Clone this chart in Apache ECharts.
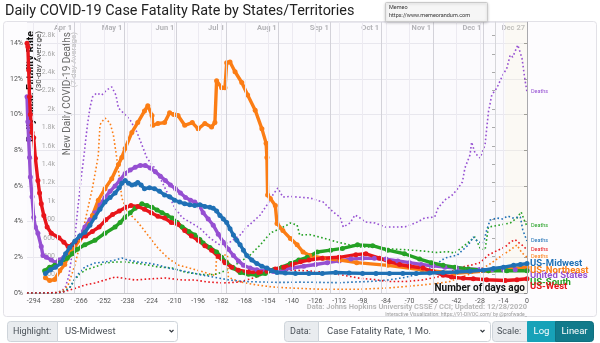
<!DOCTYPE html>
<html>
<head>
<meta charset="utf-8">
<script src="https://cdn.jsdelivr.net/npm/echarts@6/dist/echarts.min.js"></script>
<style>
  html, body { margin: 0; padding: 0; background: #ffffff; }
  #main { width: 600px; height: 343px; }
</style>
</head>
<body>
<div id="main"></div>
<script>
// Days before the last update (0 = Dec 27) and the tick positions of both x axes
const dayTicks = [-294, -280, -266, -252, -238, -224, -210, -196, -182, -168, -154, -140, -126, -112, -98, -84, -70, -56, -42, -28, -14, 0];
const monthDays = [-270, -240, -209, -179, -148, -117, -87, -56, -26, 0];
const monthNames = ['Apr 1', 'May 1', 'Jun 1', 'Jul 1', 'Aug 1', 'Sep 1', 'Oct 1', 'Nov 1', 'Dec 1', 'Dec 27'];

// Case fatality rate, 30-day average (%), as [day, value]
const midwestCfr = [[-287,1.1],[-284,1.3],[-281,1.45],[-278,1.65],[-275,2.2],[-272.5,2.55],[-269.5,2.9],[-266.5,3.2],[-263.5,3.4],[-260.5,3.8],[-257.5,4.25],[-254.5,4.7],[-251.5,5.1],[-248.5,5.35],[-245.5,5.6],[-243,5.9],[-241.5,6.15],[-239.5,6.3],[-237.5,6.15],[-235.5,6.05],[-233.5,6.1],[-232,6.2],[-230,6.05],[-228,5.85],[-225,5.9],[-222,5.85],[-219,5.7],[-216,5.5],[-213,5.4],[-210,5.2],[-207,5.1],[-204,5.0],[-201,4.95],[-198,4.9],[-195,4.95],[-192,4.85],[-189,4.8],[-187,4.75],[-185,4.6],[-183,4.35],[-181,4.15],[-179,3.95],[-177,3.6],[-175,3.25],[-173,2.95],[-171,2.7],[-169,2.4],[-167,2.1],[-164,1.85],[-161,1.65],[-158,1.5],[-155,1.4],[-152,1.25],[-149,1.15],[-144,1.12],[-138,1.1],[-130,1.1],[-122,1.1],[-114,1.15],[-106,1.12],[-98,1.1],[-90,1.1],[-82,1.1],[-74,1.1],[-66,1.1],[-58,1.12],[-50,1.15],[-42,1.18],[-34,1.22],[-26,1.28],[-20,1.38],[-14,1.45],[-8,1.55],[-4,1.6],[0,1.65]];
const northeastCfr = [[-287,0.85],[-284.5,0.7],[-281.5,0.75],[-278.5,1.25],[-275.5,1.6],[-272.5,2.3],[-269.5,2.6],[-266.5,3.0],[-263.5,3.4],[-259,4.35],[-255.5,5.2],[-251.5,5.85],[-247.5,6.4],[-243.5,7.2],[-241.5,7.6],[-239.5,8.1],[-235.5,9.0],[-232,9.55],[-228,10.2],[-226,10.5],[-223.5,9.95],[-223,9.4],[-220,9.5],[-216,9.55],[-213,10.1],[-210.5,10.0],[-208,9.95],[-204,9.4],[-199.5,9.55],[-196,9.2],[-192,9.5],[-188,9.3],[-186,9.55],[-185,11.9],[-182,11.5],[-180,11.5],[-179,12.9],[-177,12.95],[-174,12.4],[-170,11.8],[-166.5,11.1],[-162,10.25],[-158,9.2],[-155.5,8.4],[-155,7.6],[-154.6,5.5],[-153,5.3],[-150,4.9],[-149,3.9],[-145.5,3.5],[-141,3.05],[-137,2.7],[-133.5,2.3],[-129.5,2.1],[-121.5,1.95],[-111.5,1.85],[-101.5,1.7],[-83,1.55],[-62.5,1.3],[-43,1.1],[-23,1.25],[0,1.45]];
const usCfr = [[-298,11.0],[-297.5,9.6],[-297,8.6],[-296.5,7.6],[-296,6.5],[-295,5.4],[-294,4.25],[-293,3.7],[-291.5,3.35],[-289.5,2.6],[-288.5,2.1],[-286.5,2.0],[-283.5,1.85],[-281,1.7],[-279,1.85],[-276,2.0],[-273,2.3],[-270,2.75],[-266.5,3.2],[-263.5,3.7],[-260.5,4.1],[-257.5,4.5],[-254.5,4.95],[-251.5,5.35],[-248.5,5.7],[-245.5,6.0],[-242.5,6.35],[-239.5,6.7],[-236.5,6.9],[-233.5,7.05],[-230.5,7.15],[-227.5,7.15],[-224.5,7.0],[-221.5,6.8],[-218.5,6.55],[-215.5,6.3],[-212.5,6.05],[-209.5,5.85],[-206.5,5.6],[-203.5,5.35],[-200.5,5.2],[-198,5.1],[-195,4.85],[-193,4.5],[-190,4.15],[-187,3.8],[-184,3.3],[-181,2.85],[-178,2.45],[-175,2.1],[-172,1.8],[-169,1.55],[-165,1.4],[-161,1.3],[-156,1.22],[-151,1.2],[-146,1.3],[-140,1.4],[-133,1.5],[-126,1.6],[-119,1.7],[-112,1.8],[-105,1.9],[-98,1.95],[-91,1.95],[-84,1.9],[-77,1.8],[-70,1.7],[-63,1.6],[-56,1.52],[-49,1.45],[-42,1.4],[-35,1.35],[-28,1.32],[-21,1.3],[-14,1.3],[-7,1.3],[0,1.3]];
const southCfr = [[-287.5,1.25],[-284.5,1.45],[-281.5,1.55],[-278.5,1.7],[-274,1.95],[-271,2.2],[-268,2.45],[-263.5,2.7],[-257.5,2.95],[-251.5,3.35],[-245.5,3.7],[-242.5,3.95],[-239.5,4.25],[-236.5,4.5],[-233.5,4.75],[-229.5,5.0],[-226.5,4.9],[-223.5,4.8],[-220.5,4.65],[-217.5,4.5],[-214.5,4.35],[-211.5,4.2],[-208.5,3.95],[-205.5,3.7],[-201.5,3.45],[-198,3.25],[-195,3.0],[-193,2.8],[-189,2.55],[-185,2.3],[-182,2.0],[-179,1.7],[-175,1.4],[-171,1.15],[-166,1.05],[-161,1.0],[-156,1.1],[-151,1.3],[-146,1.45],[-141,1.65],[-136,1.85],[-131,2.0],[-125,2.3],[-117,2.4],[-110,2.5],[-101,2.7],[-92,2.65],[-83,2.4],[-73,2.2],[-64,1.9],[-57,1.7],[-50,1.55],[-43,1.45],[-35,1.35],[-23,1.25],[-12,1.25],[0,1.25]];
const westCfr = [[-298,14.0],[-297.5,13.8],[-297,12.5],[-296.5,11.0],[-296,10.0],[-295,9.0],[-294,8.7],[-293,7.55],[-291.5,6.3],[-290.5,5.6],[-289.5,5.0],[-288,4.35],[-286,3.7],[-283.5,3.35],[-279,3.1],[-276,2.85],[-273.5,2.6],[-271,2.7],[-269.5,2.85],[-266,3.1],[-263,3.2],[-259,3.45],[-255,3.7],[-251,4.1],[-247,4.4],[-243,4.6],[-239,4.8],[-236,4.9],[-232,4.85],[-228,4.7],[-224,4.5],[-220,4.3],[-216,4.2],[-212,3.95],[-208,3.85],[-204,3.5],[-200,3.2],[-196,2.95],[-192,2.65],[-188,2.4],[-184,2.05],[-180,1.7],[-176,1.45],[-172,1.28],[-166,1.18],[-160,1.15],[-155,1.22],[-150,1.35],[-145,1.45],[-140,1.6],[-135,1.75],[-130,1.85],[-122,1.95],[-112,2.0],[-102,2.15],[-96,2.2],[-88,1.95],[-82,1.75],[-76,1.6],[-70,1.5],[-62,1.4],[-56,1.2],[-50,1.0],[-45,0.9],[-38,0.82],[-32,0.8],[-24,0.74],[-13,0.7],[-6,0.74],[0,0.8]];

// New daily deaths, 7-day average, as [day, value]
const midwestDeaths = [[-298,0],[-280,2],[-277,8],[-275,20],[-272.5,60],[-269.5,150],[-266.5,230],[-263.5,283],[-257.5,326],[-251.5,337],[-245.5,359],[-241.5,380],[-238,359],[-232,337],[-226,326],[-220,304],[-214,272],[-208,250],[-202,228],[-195,200],[-186,170],[-177,140],[-168,125],[-159,120],[-147,115],[-135,118],[-123,115],[-111,112],[-102.5,120],[-93.5,125],[-83,141],[-72.5,170],[-64,210],[-55,300],[-49,380],[-41.5,413],[-35,522],[-32,609],[-29,554],[-26,543],[-24,685],[-22,793],[-18,815],[-14.5,805],[-11.5,837],[-8.5,815],[-4,826],[-2.5,685],[0,565]];
const northeastDeaths = [[-298,0],[-285,1],[-280,5],[-277,25],[-275,50],[-273.5,87],[-271.5,190],[-269.5,304],[-266.5,520],[-263.5,772],[-259,1141],[-256.5,1391],[-255.5,1500],[-254.5,1826],[-253.5,1859],[-251.5,1902],[-248.5,1848],[-246.5,1717],[-244.5,1467],[-242.5,1200],[-241.5,1033],[-238,880],[-232,772],[-226,630],[-220,489],[-214,380],[-208,304],[-201,270],[-193,230],[-188,200],[-185.5,190],[-185,420],[-181,413],[-178.5,413],[-178,170],[-171,120],[-161,87],[-151.5,65],[-141,54],[-121.5,40],[-101.5,40],[-83,54],[-62.5,87],[-47,120],[-38.5,174],[-31,228],[-23,304],[-14.5,413],[-10,467],[-6,522],[-3,435],[0,390]];
const usDeaths = [[-298,0],[-290,0],[-285,2],[-280,6],[-277,25],[-275,70],[-273,190],[-271,445],[-269.5,600],[-267.5,957],[-265.5,1283],[-264,1500],[-262,1826],[-260.5,2010],[-259,2130],[-256.5,2174],[-253.5,2152],[-250.5,2207],[-247.5,2240],[-245,2152],[-243.5,2010],[-240.5,1957],[-236.5,1880],[-232.5,1750],[-229.5,1609],[-226.5,1467],[-222,1360],[-217.5,1207],[-214,1075],[-210,930],[-205.5,820],[-201,772],[-195,706],[-189,598],[-183,522],[-177,554],[-171,630],[-167,717],[-163.5,772],[-159,848],[-155,957],[-151.5,1065],[-148.5,1141],[-145.5,1043],[-141,1050],[-137,1043],[-129.5,1033],[-121.5,989],[-115.5,880],[-111.5,826],[-109.5,717],[-105.5,761],[-102.5,848],[-99.5,815],[-96.5,772],[-90.5,761],[-84.5,717],[-78.5,717],[-72.5,720],[-66.5,761],[-61,815],[-55,826],[-53,924],[-49,1011],[-44.5,1065],[-41,1141],[-38.5,1207],[-37,1359],[-34,1500],[-33,1641],[-31,1522],[-28,1467],[-25,1609],[-23,1967],[-21,2152],[-18,2228],[-15,2348],[-12,2446],[-10,2587],[-8.5,2565],[-5.5,2696],[-3,2554],[-1.2,2315],[0,2185]];
const southDeaths = [[-298,0],[-280,2],[-277,10],[-275,30],[-272,70],[-269.5,150],[-266,210],[-263.5,250],[-257.5,283],[-251.5,326],[-245.5,337],[-239.5,337],[-233.5,326],[-226,304],[-220,283],[-211.5,272],[-204,228],[-200.5,217],[-190.5,196],[-185,205],[-179,250],[-171,337],[-165,413],[-159,522],[-153,652],[-149,685],[-143,739],[-141,761],[-137,739],[-135.5,630],[-129.5,635],[-121.5,598],[-113,554],[-105.5,522],[-99.5,500],[-90.5,500],[-81.5,480],[-72.5,470],[-64,460],[-53.5,440],[-47.5,450],[-43,435],[-37,520],[-31,609],[-28,489],[-25,467],[-23,717],[-16,739],[-10,761],[-6,815],[-3.5,880],[-1.2,772],[0,728]];
const westDeaths = [[-298,0],[-285,1],[-280,3],[-277,10],[-275,20],[-272,35],[-269.5,50],[-263.5,87],[-257.5,109],[-251.5,141],[-245.5,174],[-241.5,163],[-233.5,141],[-226,152],[-215.5,163],[-205.5,141],[-198,141],[-190.5,120],[-181,109],[-171,120],[-162,170],[-153,230],[-144,250],[-135,245],[-126,235],[-117,215],[-108.5,190],[-99.5,160],[-90.5,145],[-83,125],[-72.5,125],[-62.5,141],[-52,180],[-43,250],[-37,290],[-33,304],[-28,330],[-23,413],[-18,460],[-13,500],[-10,554],[-7,580],[-5.5,554],[-3,522],[0,470]];

const COLORS = {
  midwest: '#1f70b5',
  northeast: '#fb7d15',
  us: '#9650d2',
  south: '#25a125',
  west: '#e8151b'
};

function cfrSeries(name, data, color, z, labelDy) {
  return {
    name: name, type: 'line', data: data, xAxisIndex: 0, yAxisIndex: 0, z: z,
    symbol: 'circle', symbolSize: 5, showSymbol: true,
    lineStyle: { width: 3.4, color: color }, itemStyle: { color: color },
    emphasis: { disabled: true }, animation: false,
    endLabel: { show: true, formatter: name, color: color, fontFamily: 'Roboto', fontWeight: 'bold', fontSize: 9.5, distance: 3, offset: [0, labelDy] }
  };
}
function deathSeries(name, data, color, z) {
  return {
    name: name + ' deaths', type: 'line', data: data, xAxisIndex: 0, yAxisIndex: 1, z: z,
    showSymbol: false, lineStyle: { width: 1.6, color: color, type: [1.6, 2.4] },
    emphasis: { disabled: true }, animation: false,
    endLabel: { show: true, formatter: 'Deaths', color: color, fontFamily: 'Roboto', fontSize: 5.5, distance: 4 }
  };
}

const chart = echarts.init(document.getElementById('main'), null, { renderer: 'canvas' });

const gridLines = dayTicks.map(d => ({ xAxis: d, lineStyle: { color: '#eceaf1', width: 1, type: 'solid' } }))
  .concat(monthDays.map(d => ({ xAxis: d, lineStyle: { color: d === 0 ? '#a9a9ad' : '#d3d2d9', width: 1, type: 'solid' } })));

const option = {
  backgroundColor: '#ffffff',
  animation: false,
  textStyle: { fontFamily: 'Roboto' },
  grid: { left: 27, right: 73, top: 22, bottom: 50, show: true, backgroundColor: '#fbfafd', borderWidth: 0 },
  xAxis: [
    {
      type: 'value', min: -298, max: 0, position: 'bottom',
      axisLine: { show: true, lineStyle: { color: '#c4c4c8' } },
      axisTick: { show: false },
      splitLine: { show: false },
      axisLabel: { customValues: dayTicks, formatter: v => String(v), fontSize: 7, color: '#555', margin: 5 }
    },
    {
      type: 'value', min: -298, max: 0, position: 'top',
      axisLine: { show: false }, axisTick: { show: false }, splitLine: { show: false },
      axisLabel: {
        inside: true, customValues: monthDays, margin: 2,
        formatter: v => monthNames[monthDays.indexOf(v)],
        align: 'right', padding: [0, 2, 0, 0], fontSize: 7.5, fontWeight: 'bold', color: '#b4b4b8'
      }
    }
  ],
  yAxis: [
    {
      type: 'value', min: 0, max: 15.19, interval: 2, position: 'left',
      axisLine: { show: true, lineStyle: { color: '#c8c8cc' } },
      axisTick: { show: true, length: 3, lineStyle: { color: '#888' } },
      splitLine: { show: true, lineStyle: { color: '#e8e7ee' } },
      axisLabel: { formatter: '{value}%', fontSize: 7, color: '#555', margin: 4, showMaxLabel: false }
    },
    {
      type: 'value', min: 0, max: 2946, interval: 200, position: 'left', offset: -32,
      axisLine: { show: true, lineStyle: { color: '#d6d6da' } },
      axisTick: { show: true, length: 3, lineStyle: { color: '#aaa' } },
      splitLine: { show: false },
      axisLabel: {
        formatter: v => v >= 1000 ? (v / 1000) + 'k' : String(v),
        fontSize: 7, color: '#a8a8a8', margin: 4, showMaxLabel: false, showMinLabel: false
      }
    }
  ],
  series: [
    {
      name: 'grid', type: 'line', data: [], xAxisIndex: 0, yAxisIndex: 0, z: 1, silent: true,
      markLine: { silent: true, symbol: ['none', 'none'], label: { show: false }, data: gridLines, animation: false },
      markArea: { silent: true, itemStyle: { color: 'rgba(250, 248, 215, 0.22)' }, data: [[{ xAxis: -13 }, { xAxis: 0 }]] }
    },
    deathSeries('United States', usDeaths, COLORS.us, 3),
    deathSeries('US-Northeast', northeastDeaths, COLORS.northeast, 3),
    deathSeries('US-South', southDeaths, COLORS.south, 3),
    deathSeries('US-Midwest', midwestDeaths, COLORS.midwest, 3),
    deathSeries('US-West', westDeaths, COLORS.west, 3),
    cfrSeries('United States', usCfr, COLORS.us, 4, 6),
    cfrSeries('US-Northeast', northeastCfr, COLORS.northeast, 4, 3),
    cfrSeries('US-South', southCfr, COLORS.south, 4, 11.5),
    cfrSeries('US-West', westCfr, COLORS.west, 4, 8),
    cfrSeries('US-Midwest', midwestCfr, COLORS.midwest, 5, 0.5)
  ],
  graphic: [
    // card frame
    { type: 'rect', z: -10, silent: true, shape: { x: 3.5, y: 21.5, width: 593, height: 295, r: 3 }, style: { fill: '#fdfcfe', stroke: '#e2e1e7', lineWidth: 1 } },
    // title
    { type: 'text', z: 10, x: 5, y: 11, scaleX: 0.93, style: { text: 'Daily COVID-19 Case Fatality Rate by States/Territories', fontFamily: 'Roboto', fontSize: 15.5, fill: '#222', verticalAlign: 'middle' } },
    // axis titles
    { type: 'text', z: 0, x: 31, y: 31, rotation: Math.PI / 2, style: { text: 'Daily Case Fatality Rate', fontFamily: 'Roboto', fontWeight: 'bold', fontSize: 10.5, fill: '#111', align: 'right', verticalAlign: 'middle' } },
    { type: 'text', z: 0, x: 38.5, y: 31, rotation: Math.PI / 2, style: { text: '(30-day Average)', fontFamily: 'Roboto', fontSize: 8, fill: '#444', align: 'right', verticalAlign: 'middle' } },
    { type: 'text', z: 0, x: 67, y: 32, rotation: Math.PI / 2, style: { text: 'New Daily COVID-19 Deaths', fontFamily: 'Roboto', fontSize: 10, fill: '#6a6a6a', align: 'right', verticalAlign: 'middle' } },
    { type: 'text', z: 0, x: 73.5, y: 32, rotation: Math.PI / 2, style: { text: '(7-day Average)', fontFamily: 'Roboto', fontSize: 8, fill: '#bdbdbd', align: 'right', verticalAlign: 'middle' } },
    // x axis caption and source
    { type: 'text', z: 10, x: 525, y: 288, style: { text: 'Number of days ago', fontFamily: 'Roboto', fontWeight: 'bold', fontSize: 10, fill: '#111', align: 'right', verticalAlign: 'middle' } },
    { type: 'text', z: 10, x: 527, y: 307.5, style: { text: 'Data: Johns Hopkins University CSSE / CCI; Updated: 12/28/2020', fontFamily: 'Roboto', fontWeight: 'bold', fontSize: 7.5, fill: '#b7b7b7', align: 'right', verticalAlign: 'middle' } },
    { type: 'text', z: 10, x: 527, y: 314.5, style: { text: 'Interactive Visualization: https://91-DIVOC.com/ by @profwade_', fontFamily: 'Roboto', fontSize: 5, fill: '#9a9a9a', align: 'right', verticalAlign: 'middle' } },
    // controls row
    { type: 'rect', z: 10, shape: { x: 7.5, y: 321.5, width: 50, height: 20, r: [3, 0, 0, 3] }, style: { fill: '#e9ecef', stroke: '#ced4da' } },
    { type: 'text', z: 11, x: 13, y: 331.5, style: { text: 'Highlight:', fontFamily: 'Roboto', fontSize: 9, fill: '#495057', verticalAlign: 'middle' } },
    { type: 'rect', z: 10, shape: { x: 57.5, y: 321.5, width: 120, height: 20, r: [0, 3, 3, 0] }, style: { fill: '#ffffff', stroke: '#ced4da' } },
    { type: 'text', z: 11, x: 65, y: 331.5, style: { text: 'US-Midwest', fontFamily: 'Roboto', fontSize: 9.5, fill: '#495057', verticalAlign: 'middle' } },
    { type: 'polyline', z: 11, shape: { points: [[169.5, 330], [171.5, 332], [173.5, 330]] }, style: { stroke: '#343a40', lineWidth: 1.2, fill: null } },
    { type: 'rect', z: 10, shape: { x: 284.5, y: 321.5, width: 34, height: 20, r: [3, 0, 0, 3] }, style: { fill: '#e9ecef', stroke: '#ced4da' } },
    { type: 'text', z: 11, x: 290, y: 331.5, style: { text: 'Data:', fontFamily: 'Roboto', fontSize: 9, fill: '#495057', verticalAlign: 'middle' } },
    { type: 'rect', z: 10, shape: { x: 318.5, y: 321.5, width: 172, height: 20, r: [0, 3, 3, 0] }, style: { fill: '#ffffff', stroke: '#ced4da' } },
    { type: 'text', z: 11, x: 327, y: 331.5, style: { text: 'Case Fatality Rate, 1 Mo.', fontFamily: 'Roboto', fontSize: 9.5, fill: '#495057', verticalAlign: 'middle' } },
    { type: 'polyline', z: 11, shape: { points: [[480.5, 330], [482.5, 332], [484.5, 330]] }, style: { stroke: '#343a40', lineWidth: 1.2, fill: null } },
    { type: 'rect', z: 10, shape: { x: 492.5, y: 321.5, width: 35, height: 20, r: [3, 0, 0, 3] }, style: { fill: '#e9ecef', stroke: '#ced4da' } },
    { type: 'text', z: 11, x: 497, y: 331.5, style: { text: 'Scale:', fontFamily: 'Roboto', fontSize: 9, fill: '#495057', verticalAlign: 'middle' } },
    { type: 'rect', z: 10, shape: { x: 527.5, y: 321.5, width: 28, height: 20 }, style: { fill: '#17a2b8', stroke: '#17a2b8' } },
    { type: 'text', z: 11, x: 541.5, y: 331.5, style: { text: 'Log', fontFamily: 'Roboto', fontSize: 9.5, fill: '#ffffff', align: 'center', verticalAlign: 'middle' } },
    { type: 'rect', z: 10, shape: { x: 555.5, y: 321.5, width: 38, height: 20, r: [0, 3, 3, 0] }, style: { fill: '#117a8b', stroke: '#10707f' } },
    { type: 'text', z: 11, x: 574.5, y: 331.5, style: { text: 'Linear', fontFamily: 'Roboto', fontSize: 9.5, fill: '#ffffff', align: 'center', verticalAlign: 'middle' } },
    // hover note box at the top
    { type: 'rect', z: 20, shape: { x: 385.5, y: 2.5, width: 102, height: 19, r: 1 }, style: { fill: '#f6f6f6', stroke: '#c9c9c9', shadowBlur: 3, shadowColor: 'rgba(0,0,0,0.18)', shadowOffsetY: 1 } },
    { type: 'text', z: 21, x: 389, y: 8, style: { text: 'Memeo', fontFamily: 'Roboto', fontSize: 5.5, fill: '#333', verticalAlign: 'middle' } },
    { type: 'text', z: 21, x: 389, y: 15.5, style: { text: 'https://www.memeorandum.com', fontFamily: 'Roboto', fontSize: 5.5, fill: '#333', verticalAlign: 'middle' } }
  ]
};

chart.setOption(option);
</script>
</body>
</html>
